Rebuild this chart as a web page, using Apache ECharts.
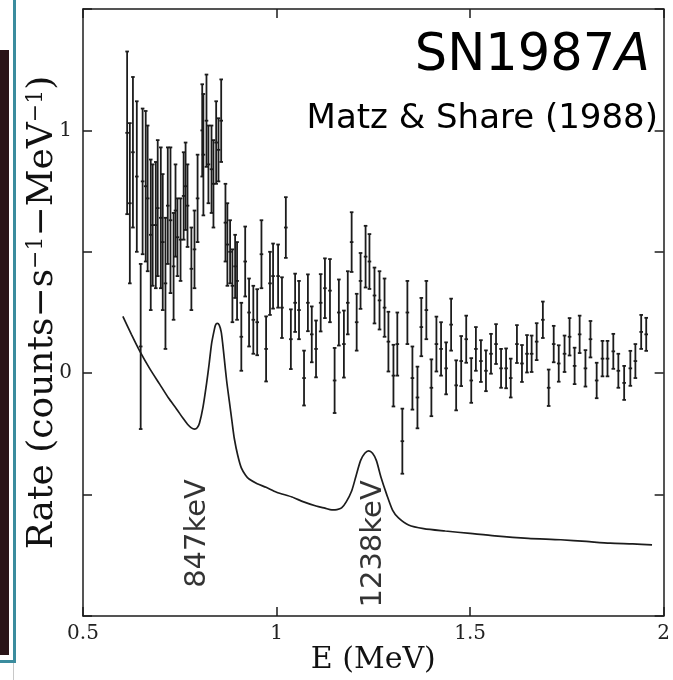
<!DOCTYPE html>
<html>
<head>
<meta charset="utf-8">
<script src="https://cdn.jsdelivr.net/npm/echarts@6/dist/echarts.min.js"></script>
<style>
html,body{margin:0;padding:0;background:#fff;}
#chart{width:673px;height:680px;}
</style>
</head>
<body>
<div id="chart"></div>
<script>
// ---- Data ----
const energy = [
 0.614,0.621,0.629,0.639,0.649,0.654,0.662,0.667,0.675,0.680,0.688,0.693,0.701,0.706,0.713,0.719,0.726,0.734,0.739,0.744,
 0.752,0.760,0.765,0.770,0.780,0.788,0.796,0.808,0.811,0.819,0.824,0.832,0.837,0.844,0.850,0.857,0.868,0.873,0.880,0.886,
 0.893,0.898,0.909,
 0.919,0.929,0.940,0.950,0.961,0.973,0.983,0.991,1.004,1.014,1.024,1.037,1.048,1.058,1.071,1.081,1.091,1.102,1.114,1.125,
 1.138,1.150,1.161,1.174,1.184,1.194,1.207,1.217,1.230,
 1.240,1.253,1.266,1.279,1.289,1.302,1.312,1.325,1.338,1.351,1.364,1.374,1.387,1.400,1.413,1.425,1.438,1.451,1.464,1.477,
 1.490,1.503,1.515,1.528,1.541,1.554,1.567,1.580,1.593,1.605,
 1.621,1.634,1.647,1.659,1.672,1.688,1.703,1.716,1.729,1.744,1.757,1.770,1.783,1.798,1.811,1.827,1.842,1.855,1.870,1.883,
 1.898,1.914,1.927,1.942,1.955
];
const rate = [
 0.99,0.70,0.91,0.81,0.11,0.79,0.77,0.72,0.57,0.61,0.61,0.68,0.64,0.54,0.37,0.69,0.63,0.44,0.67,0.56,
 0.55,0.73,0.77,0.69,0.43,0.51,0.72,1.00,0.90,1.04,0.86,0.84,0.78,0.95,0.92,1.04,0.62,0.53,0.50,0.36,
 0.44,0.38,0.15,
 0.46,0.25,0.22,0.21,0.49,0.10,0.37,0.40,0.40,0.27,0.60,0.14,0.29,0.26,-0.02,0.29,0.16,0.10,0.29,0.35,
 0.34,-0.03,0.25,0.12,0.29,0.54,0.21,0.38,0.48,
 0.46,0.32,0.30,0.27,0.13,-0.01,0.12,-0.28,0.25,-0.02,-0.10,0.19,0.26,-0.06,0.12,0.10,0.02,0.20,-0.05,0.05,
 0.14,-0.03,0.10,0.05,0.01,0.08,0.12,0.02,0.02,-0.02,
 0.12,0.04,0.08,0.08,0.13,0.22,-0.06,0.12,0.04,0.08,0.15,0.03,0.16,0.02,0.14,-0.03,0.06,0.06,0.09,0.01,
 -0.04,0.02,0.05,0.17,0.16
];
const rateErr = [
 0.335,0.33,0.31,0.31,0.34,0.30,0.31,0.30,0.31,0.25,0.26,0.28,0.29,0.28,0.27,0.24,0.30,0.22,0.19,0.16,
 0.17,0.18,0.18,0.17,0.17,0.16,0.18,0.19,0.25,0.19,0.16,0.18,0.18,0.17,0.13,0.17,0.16,0.17,0.13,0.15,
 0.13,0.16,0.14,
 0.144,0.14,0.14,0.136,0.14,0.134,0.13,0.134,0.13,0.125,0.125,0.123,0.12,0.12,0.113,0.117,0.115,0.117,0.118,0.123,
 0.13,0.134,0.136,0.138,0.13,0.123,0.117,0.115,0.127,
 0.113,0.115,0.12,0.12,0.123,0.127,0.13,0.134,0.13,0.13,0.127,0.12,0.12,0.117,0.113,0.11,0.107,0.107,0.103,0.103,
 0.097,0.092,0.09,0.086,0.084,0.082,0.082,0.08,0.082,0.08,
 0.078,0.076,0.077,0.075,0.076,0.075,0.075,0.075,0.075,0.075,0.077,0.075,0.077,0.075,0.075,0.073,0.073,0.073,0.072,0.07,
 0.07,0.072,0.07,0.07,0.068
];
// model spectrum curve
const curveE = [0.603,0.625,0.647,0.672,0.698,0.720,0.742,0.758,0.770,0.780,0.788,0.795,0.801,0.810,0.819,0.826,0.832,0.838,0.842,0.847,
 0.852,0.857,0.861,0.865,0.871,0.878,0.885,0.891,0.900,0.909,0.920,0.929,0.950,0.973,1.000,1.040,1.070,1.102,1.125,1.143,
 1.156,1.168,1.180,1.194,1.205,1.217,1.228,1.238,1.248,1.258,1.270,1.284,1.300,1.315,1.341,1.380,1.436,1.500,1.564,1.650,
 1.734,1.800,1.862,1.920,1.970];
const curveRate = [0.234,0.16,0.09,0.02,-0.045,-0.10,-0.148,-0.185,-0.21,-0.225,-0.23,-0.225,-0.205,-0.14,-0.045,0.04,0.12,0.17,0.197,0.205,
 0.198,0.17,0.12,0.06,-0.03,-0.115,-0.2,-0.27,-0.34,-0.39,-0.42,-0.436,-0.455,-0.47,-0.49,-0.51,-0.53,-0.547,-0.556,-0.563,
 -0.562,-0.555,-0.53,-0.485,-0.425,-0.36,-0.33,-0.32,-0.33,-0.36,-0.43,-0.497,-0.565,-0.596,-0.625,-0.64,-0.65,-0.66,-0.67,-0.68,
 -0.686,-0.693,-0.70,-0.703,-0.707];
// line annotations
const peakLabels = ['847keV','1238keV'];
const peakLabelE = [0.796, 1.251];
const peakLabelRate = [-0.66, -0.703];
// axes
const xMin = 0.5, xMax = 2, xStep = 0.5;
const yMin = -1, yMax = 1.5, yStep = 0.5;
const yLabeledTicks = [0, 1];
const chartTitle = 'SN1987';
const chartTitleItalic = 'A';
const chartSubtitle = 'Matz & Share (1988)';

const ink = '#1c1c1c';
const chart = echarts.init(document.getElementById('chart'), null, {renderer:'canvas'});

const axisCommon = {
  axisLine:{show:true, onZero:false, lineStyle:{color:ink, width:1.5}},
  axisTick:{show:true, inside:true, length:9, lineStyle:{color:ink, width:1.5}},
  splitLine:{show:false}
};

const option = {
  animation:false,
  backgroundColor:'#ffffff',
  grid:{left:83, right:6, top:9, bottom:64, containLabel:false},
  title:[{
    text:'{n|' + chartTitle + '}{i|' + chartTitleItalic + '}',
    right:18, top:26,
    textStyle:{rich:{
      n:{fontFamily:'DejaVu Sans', fontWeight:'normal', fontSize:51, color:'#000'},
      i:{fontFamily:'DejaVu Sans', fontWeight:'normal', fontStyle:'italic', fontSize:51, color:'#000'}
    }}
  },{
    text:chartSubtitle, right:10, top:97,
    textStyle:{fontFamily:'DejaVu Sans', fontWeight:'normal', fontSize:34, color:'#000'}
  }],
  graphic:[
    {type:'rect', shape:{x:0, y:50, width:9, height:605}, style:{fill:'#2a1418'}, silent:true},
    {type:'rect', shape:{x:13, y:0, width:3, height:663}, style:{fill:'#3b8c9e'}, silent:true},
    {type:'rect', shape:{x:0, y:660, width:16, height:3}, style:{fill:'#3b8c9e'}, silent:true},
    {type:'rect', shape:{x:13, y:663, width:1, height:17}, style:{fill:'#c8c8c8'}, silent:true}
  ],
  xAxis:[
    Object.assign({}, axisCommon, {
      type:'value', position:'bottom', min:xMin, max:xMax, interval:xStep,
      name:'E (MeV)', nameLocation:'middle', nameGap:29, nameMoveOverlap:false,
      nameTextStyle:{fontFamily:'DejaVu Serif', fontSize:30, color:'#111'},
      axisLabel:{show:true, margin:8, fontFamily:'DejaVu Serif', fontSize:20, color:'#222',
        formatter:function(v){return String(v);}}
    }),
    Object.assign({}, axisCommon, {
      type:'value', position:'top', min:xMin, max:xMax, interval:xStep,
      axisLabel:{show:false}
    })
  ],
  yAxis:[
    Object.assign({}, axisCommon, {
      type:'value', position:'left', min:yMin, max:yMax, interval:yStep,
      name:'Rate (counts−s{sup|−1}−MeV{sup|−1})', nameLocation:'middle', nameRotate:90, nameGap:22,
      nameMoveOverlap:false,
      nameTextStyle:{fontFamily:'DejaVu Serif', fontSize:36, color:'#111',
        rich:{sup:{fontFamily:'DejaVu Serif', fontSize:22, color:'#111', verticalAlign:'top', padding:[0,0,0,0]}}},
      axisLabel:{show:true, margin:11, fontFamily:'DejaVu Serif', fontSize:20, color:'#222',
        formatter:function(v){return yLabeledTicks.indexOf(v) >= 0 ? String(v) : '';}}
    }),
    Object.assign({}, axisCommon, {
      type:'value', position:'right', min:yMin, max:yMax, interval:yStep,
      axisLabel:{show:false}
    })
  ],
  series:[
    {
      type:'custom',
      xAxisIndex:0, yAxisIndex:0,
      clip:true,
      encode:{x:0, y:1},
      data: energy.map(function(e,i){return [e, rate[i], rateErr[i]];}),
      renderItem:function(params, api){
        const e = api.value(0), r = api.value(1), er = api.value(2);
        const top = api.coord([e, r+er]);
        const bot = api.coord([e, r-er]);
        const mid = api.coord([e, r]);
        const c = 1.8;
        const st = {stroke:ink, lineWidth:1.8};
        return {type:'group', children:[
          {type:'line', shape:{x1:top[0], y1:top[1], x2:bot[0], y2:bot[1]}, style:st},
          {type:'line', shape:{x1:top[0]-c, y1:top[1], x2:top[0]+c, y2:top[1]}, style:st},
          {type:'line', shape:{x1:bot[0]-c, y1:bot[1], x2:bot[0]+c, y2:bot[1]}, style:st},
          {type:'line', shape:{x1:mid[0]-c, y1:mid[1], x2:mid[0]+c, y2:mid[1]}, style:st}
        ]};
      },
      z:3
    },
    {
      type:'line',
      xAxisIndex:0, yAxisIndex:0,
      data: curveE.map(function(e,i){return [e, curveRate[i]];}),
      showSymbol:false, symbol:'none', smooth:0.25,
      lineStyle:{color:ink, width:1.7},
      z:2
    },
    {
      type:'scatter',
      xAxisIndex:0, yAxisIndex:0,
      symbolSize:0,
      data: peakLabels.map(function(t,i){return {value:[peakLabelE[i], peakLabelRate[i]], name:t};}),
      label:{show:true, position:'inside', rotate:90, formatter:'{b}',
        fontFamily:'DejaVu Sans', fontSize:29, color:'#000', align:'center', verticalAlign:'middle'},
      z:4
    }
  ]
};
chart.setOption(option);
</script>
</body>
</html>
